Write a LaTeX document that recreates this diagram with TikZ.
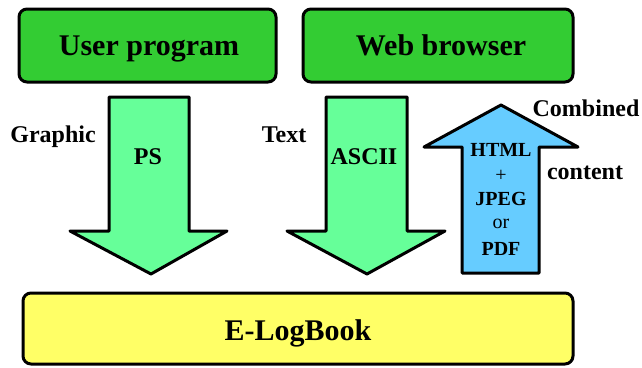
\documentclass[tikz,border=0pt]{standalone}
\usepackage{fontspec}
\setmainfont{Liberation Serif}
\definecolor{boxgreen}{HTML}{33CC33}
\definecolor{arrowgreen}{HTML}{66FF99}
\definecolor{arrowblue}{HTML}{66CCFF}
\definecolor{boxyellow}{HTML}{FFFF66}
\tikzset{
  outl/.style={draw=black, line width=3pt, line join=round},
  bigbox/.style={outl, rounded corners=8pt},
  bigtxt/.style={font=\fontsize{30}{34}\selectfont\bfseries, anchor=base, inner sep=0pt},
  midtxt/.style={font=\fontsize{24}{28}\selectfont\bfseries, anchor=base, inner sep=0pt},
  smltxt/.style={font=\fontsize{20}{24}\selectfont\bfseries, anchor=base, inner sep=0pt},
  smlreg/.style={font=\fontsize{20}{24}\selectfont, anchor=base, inner sep=0pt},
}
\begin{document}
\begin{tikzpicture}[x=1pt, y=-1pt]
\useasboundingbox (0,0) rectangle (642,367);
% boxes
\draw[bigbox, fill=boxgreen] (19,9) rectangle (276,82);
\draw[bigbox, fill=boxgreen] (303,9) rectangle (573,82);
\draw[bigbox, fill=boxyellow] (23,293) rectangle (573,364);
\node[bigtxt] (user) at (149,55) {User program};
\node[bigtxt] (web) at (441,55) {Web browser};
\node[bigtxt] (elog) at (298,340) {E-LogBook};
% down arrows
\draw[outl, fill=arrowgreen] (109,97) -- (189,97) -- (189,231) -- (227,231) -- (151,274) -- (70,231) -- (109,231) -- cycle;
\draw[outl, fill=arrowgreen] (326,97) -- (407,97) -- (407,231) -- (445,231) -- (367,274) -- (287,231) -- (326,231) -- cycle;
% up arrow
\draw[outl, fill=arrowblue] (462,273) -- (539,273) -- (539,147) -- (578,147) -- (501,105) -- (424,147) -- (462,147) -- cycle;
% labels
\node[midtxt] (ps) at (148,164) {PS};
\node[midtxt] (ascii) at (364,164) {ASCII};
\node[midtxt] (graphic) at (53,142) {Graphic};
\node[midtxt] (text) at (284,142) {Text};
\node[midtxt] (combined) at (586,116) {Combined};
\node[midtxt] (content) at (585,179) {content};
\node[smltxt] (html) at (501,156) {HTML};
\node[smlreg] (plus) at (501,181) {+};
\node[smltxt] (jpeg) at (501,205) {JPEG};
\node[smlreg] (or) at (501,228) {or};
\node[smltxt] (pdf) at (501,255) {PDF};
\end{tikzpicture}
\end{document}
